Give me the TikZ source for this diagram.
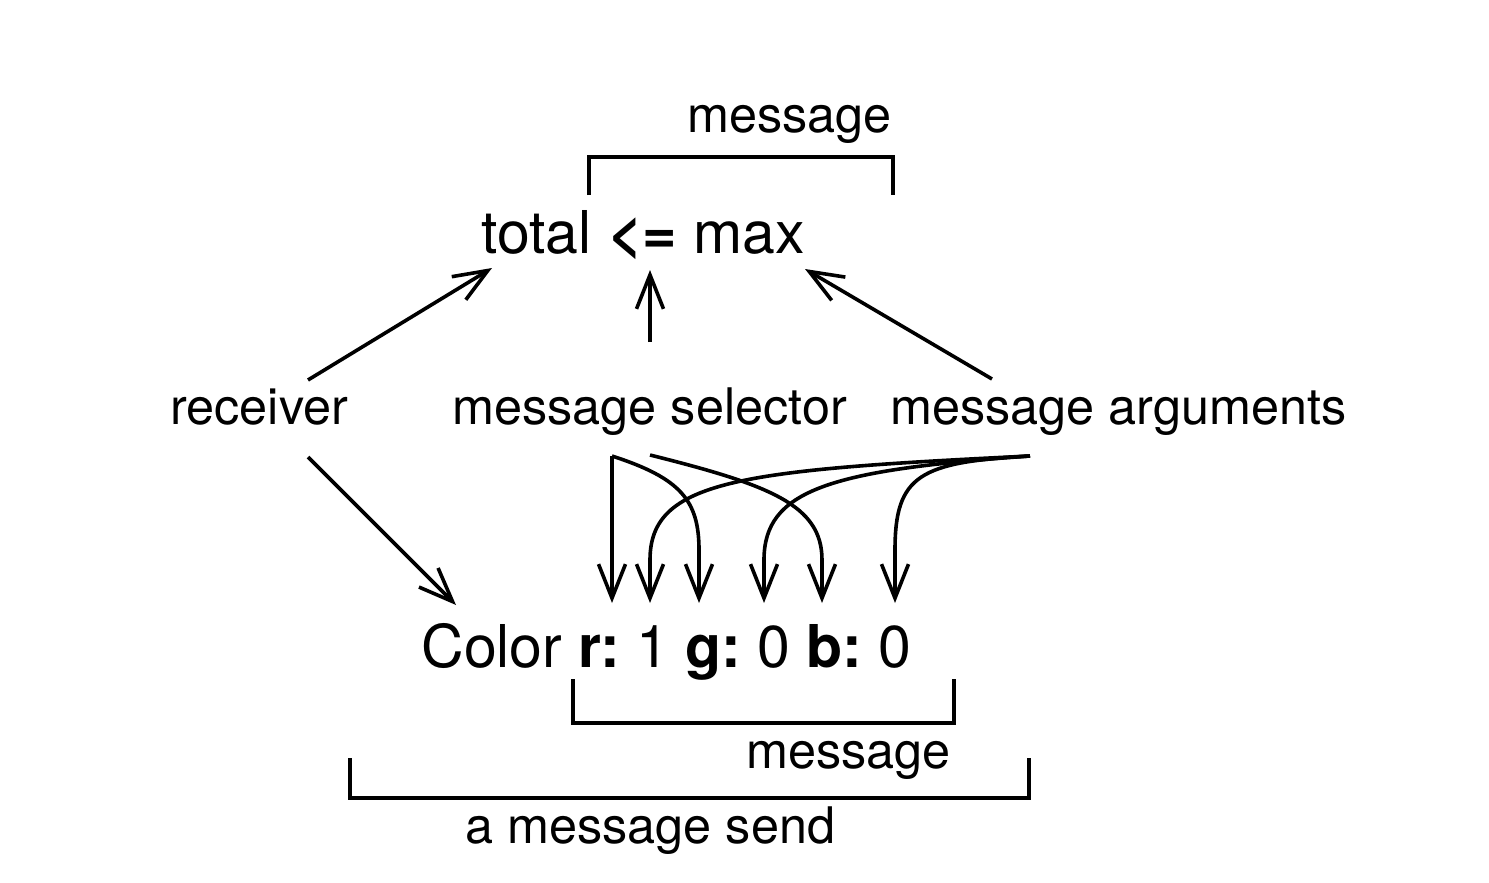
\documentclass[tikz,border=0pt]{standalone}
\usepackage{fontspec}
\setmainfont{TeX Gyre Heros}
\usetikzlibrary{arrows.meta}
\frenchspacing
\tikzset{
  lbl/.style={anchor=base west, inner sep=0pt, font=\fontsize{25.2}{30}\selectfont},
  big/.style={anchor=base west, inner sep=0pt, font=\fontsize{29.5}{35}\selectfont},
  conn/.style={line width=1.8pt, -{Straight Barb[length=17pt,width=13.5pt,line width=1.8pt]}},
  brk/.style={line width=1.7pt, line join=miter},
}
\begin{document}
\begin{tikzpicture}[x=0.5pt,y=-0.5pt]
\useasboundingbox (0,0) rectangle (1489,883);
% texts
\node[lbl] (msgtop) at (687,133) {message};
\node[big] (expr) at (481,253) {total \textbf{<=} max};
\node[lbl] (recv) at (170,424) {receiver};
\node[lbl] (sel) at (452,424) {message selector};
\node[lbl] (args) at (890,424) {message arguments};
\node[big] (color) at (421,667) {Color \textbf{r:} 1 \textbf{g:} 0 \textbf{b:} 0};
\node[lbl] (msgbot) at (746,768) {message};
\node[lbl] (send) at (465,843) {a message send};
% connector end points
\coordinate (recvU) at (308,380);
\coordinate (totalT) at (492,268);
\coordinate (selU) at (650,342);
\coordinate (leT) at (650,270);
\coordinate (argsU) at (992,379);
\coordinate (maxT) at (805,269);
\coordinate (recvD) at (308,457);
\coordinate (colorT) at (456,605);
\coordinate (selA) at (612,456);
\coordinate (selB) at (650,455);
\coordinate (argsD) at (1030,456);
\coordinate (rT) at (612,603);
\coordinate (oneT) at (650,603);
\coordinate (gT) at (699,603);
\coordinate (zeroT) at (764,603);
\coordinate (bT) at (822,603);
\coordinate (zeroB) at (895,603);
% upper arrows
\draw[conn] (recvU) -- (totalT);
\draw[conn] (selU) -- (leT);
\draw[conn] (argsU) -- (maxT);
\draw[conn] (recvD) -- (colorT);
% selector arrows
\draw[conn] (selA) -- (rT);
\draw[conn] (selA) .. controls (680,478) and (699,500) .. (699,550) -- (gT);
\draw[conn] (selB) .. controls (770,485) and (822,505) .. (822,560) -- (bT);
% argument arrows
\draw[conn] (argsD) .. controls (740,470) and (650,480) .. (650,560) -- (oneT);
\draw[conn] (argsD) .. controls (830,470) and (764,490) .. (764,560) -- (zeroT);
\draw[conn] (argsD) .. controls (920,462) and (895,475) .. (895,550) -- (zeroB);
% brackets
\draw[brk] (589,195) -- (589,157) -- (893,157) -- (893,195);
\draw[brk] (573,679) -- (573,723) -- (954,723) -- (954,679);
\draw[brk] (350,758) -- (350,798) -- (1029,798) -- (1029,758);
\end{tikzpicture}
\end{document}
